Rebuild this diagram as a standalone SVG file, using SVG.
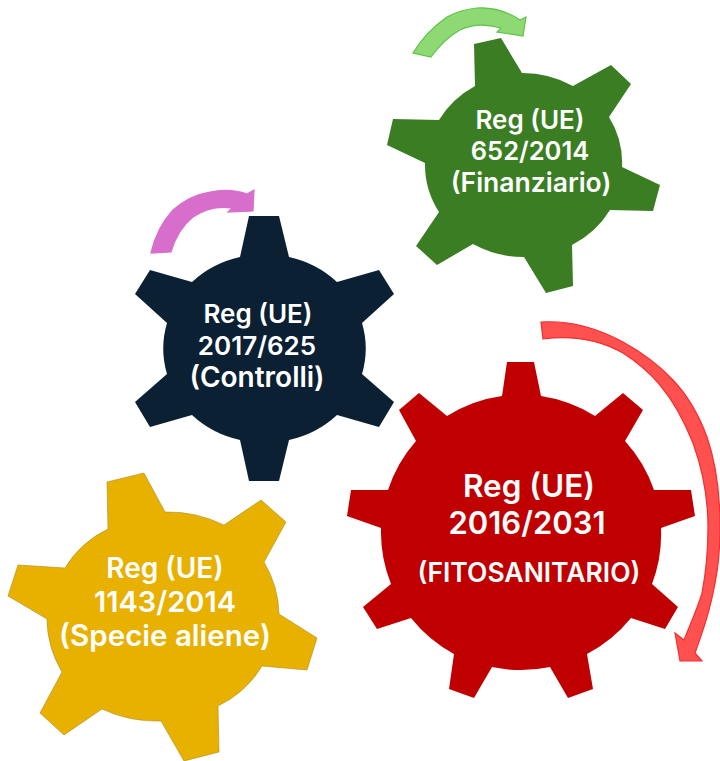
<svg xmlns="http://www.w3.org/2000/svg" width="720" height="761" viewBox="0 0 720 761">
<style>
text{font-family:Inter,"Open Sans","Liberation Sans",sans-serif;font-weight:600;fill:#fff;text-anchor:middle}
.a{stroke-width:1.2}
</style>
<rect width="720" height="761" fill="#fff"/>
<g id="connectors">
<path id="arrow-green" class="a" fill="#8ed973" stroke="#5fc24a" d="M413,53 C422,38 434,26 447,17 C456,12 466,9 477,8 C493,7 508,12 520,20 L526,17 L523,36 L497,32 L501,28 C487,24 472,24 460,30 C449,36 439,46 431,57 Z"/>
<path id="arrow-pink" class="a" fill="#d86ecc" stroke="#d86ecc" d="M151,253 C155,235 163,221 173,210 C184,200 197,194 210,192 C224,189 236,190 247,194 L254,190 L253,211 L228,212 L232,208 C218,206 205,209 193,217 C183,225 175,238 171,252 Z"/>
<path id="arrow-red" class="a" fill="#ff5050" stroke="#f03030" d="M541,322 C575,320 601,330 623,342 C643,353 660,366 673,380 C690,398 700,418 707,437 C716,463 720,495 720,527 C720,550 718,572 713,593 C709,614 702,634 695,653 L702,661 L680,661 L675,633 L684,640 C692,620 698,607 702,593 C706,572 708,550 708,527 C708,497 702,468 693,443 C685,423 675,403 660,385 C649,372 637,362 623,353 C600,340 572,335 543,339 Z"/>
</g>
<g id="gear-finanziario">
<path fill="#3b7d23" d="M474,44 L501,38 L522,73 A99,92 0 0 1 573,86 L611,65 L631,84 L609,117 A99,92 0 0 1 622,167 L660,185 L653,211 L610,210 A99,92 0 0 1 572,245 L573,286 L546,293 L524,257 A99,92 0 0 1 473,244 L437,265 L416,246 L439,212 A99,92 0 0 1 425,163 L387,145 L393,119 L439,120 A99,92 0 0 1 475,86 Z"/>
<text x="530" y="129" font-size="26">Reg (UE)</text>
<text x="530" y="160" font-size="25.5">652/2014</text>
<text x="531" y="192" font-size="26.5">(Finanziario)</text>
</g>
<g id="gear-controlli">
<path fill="#0b2033" d="M249,216 L279,216 L289,257 A101,95 0 0 1 337,282 L379,270 L394,294 L362,323 A101,95 0 0 1 362,374 L394,402 L379,427 L337,415 A101,95 0 0 1 289,440 L279,481 L249,481 L240,440 A101,95 0 0 1 192,415 L150,427 L135,402 L167,374 A101,95 0 0 1 167,323 L135,294 L150,270 L192,282 A101,95 0 0 1 240,257 Z"/>
<text x="258" y="323" font-size="26">Reg (UE)</text>
<text x="257" y="355" font-size="26">2017/625</text>
<text x="257" y="387" font-size="28">(Controlli)</text>
</g>
<g id="gear-fitosanitario">
<path fill="#c00000" d="M507,362 L534,362 L541,396 A140,140 0 0 1 595,416 L623,393 L643,410 L625,441 A140,140 0 0 1 654,490 L691,490 L695,516 L661,528 A140,140 0 0 1 652,584 L678,607 L665,629 L631,618 A140,140 0 0 1 587,654 L593,689 L568,698 L550,667 A140,140 0 0 1 492,667 L474,698 L449,689 L454,654 A140,140 0 0 1 411,618 L377,629 L363,607 L391,584 A140,140 0 0 1 381,528 L347,516 L351,490 L388,490 A140,140 0 0 1 416,441 L399,410 L419,393 L447,416 A140,140 0 0 1 502,396 Z"/>
<text x="529" y="497" font-size="31.5">Reg (UE)</text>
<text x="527" y="534" font-size="31">2016/2031</text>
<text x="529" y="582" font-size="26.5">(FITOSANITARIO)</text>
</g>
<g id="gear-specie-aliene">
<path fill="#e8b100" stroke="#a98a20" stroke-width=".6" d="M107,482 L144,473 L165,512 A116,105 20 0 1 224,525 L261,500 L286,522 L264,562 A116,105 20 0 1 279,614 L317,638 L307,670 L262,666 A116,105 20 0 1 218,706 L219,752 L184,761 L161,721 A116,105 20 0 1 102,709 L64,735 L40,713 L62,672 A116,105 20 0 1 47,619 L8,596 L18,565 L65,568 A116,105 20 0 1 108,529 Z"/>
<text x="165" y="578" font-size="28">Reg (UE)</text>
<text x="165" y="612" font-size="29">1143/2014</text>
<text x="165" y="646" font-size="29.5">(Specie aliene)</text>
</g>
</svg>
